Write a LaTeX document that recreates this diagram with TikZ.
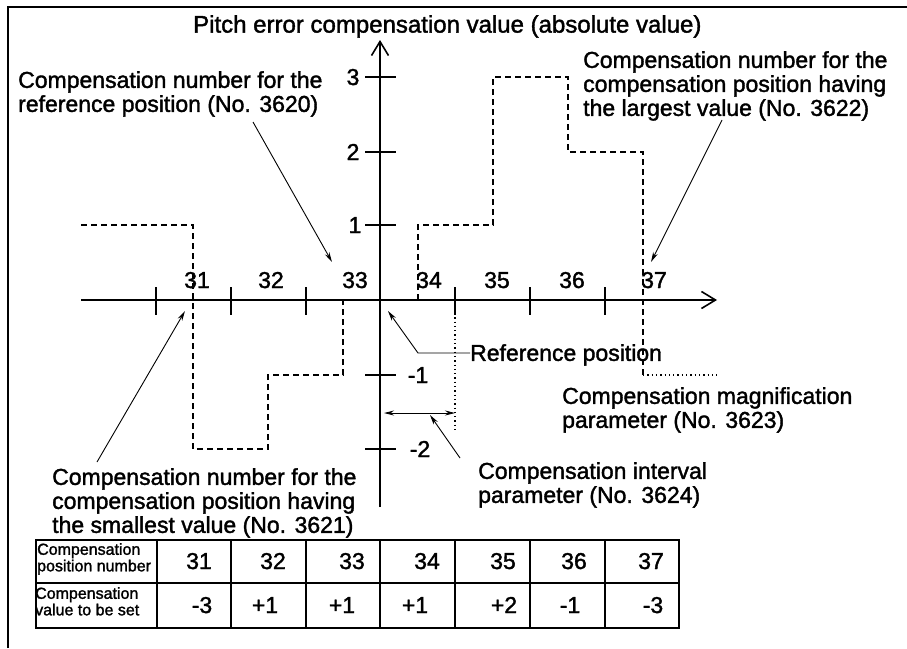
\documentclass[tikz,border=0pt]{standalone}
\usepackage{fontspec}
\setmainfont{Liberation Sans}
\newfontface\heavy{Liberation Sans}[FakeBold=1.6]
\usetikzlibrary{arrows.meta}
\begin{document}
\begin{tikzpicture}[x=1pt,y=-1pt,
  lbl/.style={inner sep=0pt, anchor=north west, align=left, font=\heavy\fontsize{23}{24}\selectfont},
  num/.style={inner sep=0pt, anchor=base, font=\heavy\fontsize{23}{24}\selectfont},
  small/.style={inner sep=0pt, anchor=north west, align=left, font=\heavy\fontsize{16}{16.5}\selectfont},
  axisline/.style={line width=2.4pt},
  curve/.style={line width=1.9pt, dash pattern=on 6pt off 4pt},
  dotline/.style={line width=1.3pt, dash pattern=on 1.3pt off 3pt},
  leader/.style={line width=0.9pt, -{Stealth[length=10pt,width=5pt]}},
  tickline/.style={line width=1.3pt},
  tabline/.style={line width=1.6pt},
]
\useasboundingbox (0,0) rectangle (907,648);
% frame
\draw[line width=1.6pt] (8,648) -- (8,7) -- (907,7);

% axes
\coordinate (xs) at (81,300);
\coordinate (xe) at (717,300);
\coordinate (ys) at (380,507);
\coordinate (ye) at (380,40);
\draw[axisline, -{Straight Barb[length=14pt,width=17pt,line width=1.6pt]}] (xs) -- (xe);
\draw[axisline, -{Straight Barb[length=14pt,width=17pt,line width=1.6pt]}] (ys) -- (ye);

% x ticks
\foreach \x in {156,231,306,455,530,605}
  \draw[tickline] (\x,287) -- (\x,315);
% y ticks
\foreach \y in {77,152,225,375,449}
  \draw[tickline] (365,\y) -- (396,\y);

% axis labels
\node[num] (p31) at (197,288) {31};
\node[num] (p32) at (271,288) {32};
\node[num] (p33) at (355,288) {33};
\node[num] (p34) at (429,288) {34};
\node[num] (p35) at (497,288) {35};
\node[num] (p36) at (572,288) {36};
\node[num] (p37) at (654,288) {37};
\node[num] (v3) at (353,85) {3};
\node[num] (v2) at (353,160) {2};
\node[num] (v1) at (355,233) {1};
\node[num] (vm1) at (418,383) {-1};
\node[num] (vm2) at (420,457) {-2};

% dashed step curve
\draw[curve] (81,225) -- (193,225) -- (193,449) -- (268,449) -- (268,375) -- (343,375) -- (343,300);
\draw[curve] (418,300) -- (418,225) -- (493,225) -- (493,77) -- (568,77) -- (568,152) -- (643,152) -- (643,375);
\coordinate (c37) at (643,375);
\coordinate (c37e) at (717,375);
\draw[dotline] (c37) -- (c37e);
\coordinate (iv1) at (455,300);
\coordinate (iv2) at (455,430);
\draw[dotline] (iv1) -- (iv2);

% texts
\node[lbl, font=\heavy\fontsize{24}{25}\selectfont] (title) at (193,15) {Pitch error compensation value (absolute value)};
\node[lbl] (t3620) at (18,71) {Compensation number for the\\reference position (No. 3620)};
\node[lbl] (t3622) at (583,51) {Compensation number for the\\compensation position having\\the largest value (No. 3622)};
\node[lbl] (t3621) at (52,468) {Compensation number for the\\compensation position having\\the smallest value (No. 3621)};
\node[lbl] (tref) at (470,344) {Reference position};
\node[lbl] (t3623) at (562,387) {Compensation magnification\\parameter (No. 3623)};
\node[lbl] (t3624) at (478,462) {Compensation interval\\parameter (No. 3624)};

% leaders
\coordinate (a3620) at (332,262);
\coordinate (s3620) at (253,122);
\draw[leader] (s3620) -- (a3620);
\coordinate (a3622) at (651,262);
\coordinate (s3622) at (722,120);
\draw[leader] (s3622) -- (a3622);
\coordinate (a3621) at (185,311);
\coordinate (s3621) at (97,462);
\draw[leader] (s3621) -- (a3621);
\coordinate (aref) at (388,311);
\coordinate (kref) at (418,353);
\draw[leader] (tref.west |- kref) -- (kref) -- (aref);
\coordinate (dl) at (384,413);
\coordinate (dr) at (455,413);
\draw[line width=0.9pt, {Stealth[length=10pt,width=5pt]}-{Stealth[length=10pt,width=5pt]}] (dl) -- (dr);
\coordinate (a3624) at (430,415);
\coordinate (s3624) at (460,458);
\draw[leader] (s3624) -- (a3624);

% table
\draw[tabline] (36,540) rectangle (679,628);
\draw[tabline] (36,583) -- (679,583);
\foreach \x in {157,231,306,380,455,530,605}
  \draw[tabline] (\x,540) -- (\x,628);
\draw[line width=2.4pt] (36,628) -- (679,628) -- (679,540);

\node[small] (h1) at (37,543) {Compensation\\position number};
\node[small] (h2) at (35,587) {Compensation\\value to be set};
\node[num] (n31) at (199,569) {31};
\node[num] (n32) at (273,569) {32};
\node[num] (n33) at (352,569) {33};
\node[num] (n34) at (427,569) {34};
\node[num] (n35) at (503,569) {35};
\node[num] (n36) at (574,569) {36};
\node[num] (n37) at (651,569) {37};
\node[num] (w31) at (202,613) {-3};
\node[num] (w32) at (265,613) {+1};
\node[num] (w33) at (342,613) {+1};
\node[num] (w34) at (415,613) {+1};
\node[num] (w35) at (504,613) {+2};
\node[num] (w36) at (570,613) {-1};
\node[num] (w37) at (653,613) {-3};
\end{tikzpicture}
\end{document}
